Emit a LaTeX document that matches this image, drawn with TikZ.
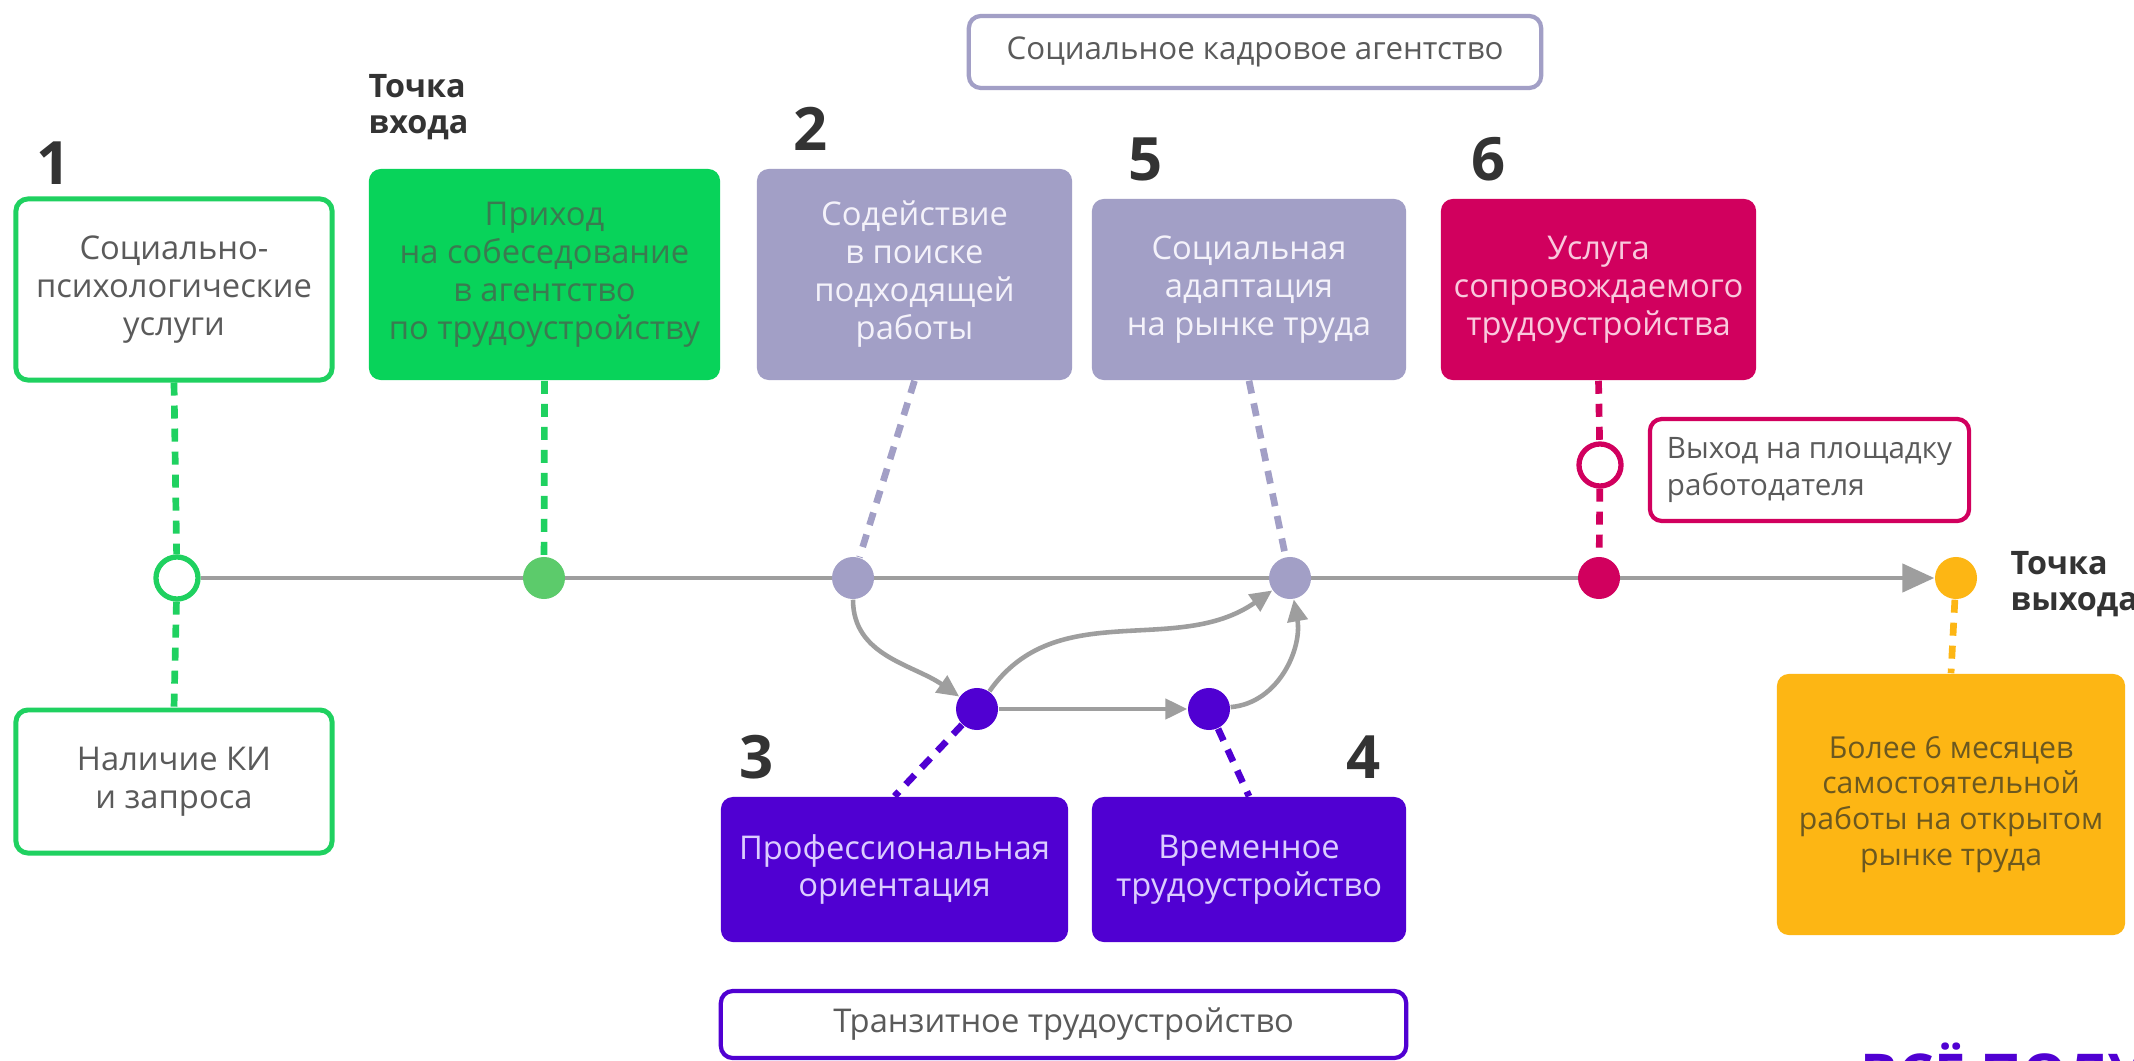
\documentclass[tikz,border=0pt]{standalone}
\usepackage{fontspec}
\setmainfont{Open Sans}
\usetikzlibrary{arrows.meta}

\definecolor{grn}{HTML}{1FD160}
\definecolor{grnfill}{HTML}{08D35A}
\definecolor{grndot}{HTML}{5CCB6B}
\definecolor{grntext}{HTML}{3A7A50}
\definecolor{lav}{HTML}{A29FC6}
\definecolor{lavtext}{HTML}{F4F2FA}
\definecolor{mag}{HTML}{D1005E}
\definecolor{magtext}{HTML}{F9C9DD}
\definecolor{vio}{HTML}{5000D2}
\definecolor{viotext}{HTML}{DCCDFF}
\definecolor{amber}{HTML}{FDB614}
\definecolor{ambertext}{HTML}{6B5820}
\definecolor{txt}{HTML}{5A5A5A}
\definecolor{tline}{HTML}{9E9E9E}
\definecolor{ink}{HTML}{333333}

\pgfdeclarelayer{bg}
\pgfsetlayers{bg,main}

\tikzset{
  card/.style={rounded corners=0.12cm, align=center, inner sep=0pt,
    font=\fontsize{9.3}{10.8}\selectfont},
  num/.style={inner sep=0pt, text=ink, font=\fontsize{17}{20}\selectfont\bfseries},
  lbl/.style={inner sep=0pt, align=left, text=ink, font=\fontsize{9.2}{10.2}\selectfont\bfseries},
  dot/.style={circle, inner sep=0pt, minimum size=0.42cm},
  ring/.style={circle, inner sep=0pt, minimum size=0.42cm, fill=white, line width=1.5pt},
  dashln/.style={line width=1.9pt, dash pattern=on 0.13cm off 0.1cm},
  flow/.style={draw=tline, line width=1.3pt, -{Triangle[length=0.22cm,width=0.2cm]}}
}

\begin{document}
\begin{tikzpicture}[x=0.01cm, y=-0.01cm]
		%%%%% START %%%%%
		\useasboundingbox (0,0) rectangle (2134,1061);
		
		% upper row
		\node[num] (n1) at (54,163) {1};
		\node[card, draw=grn, line width=1.4pt, text=txt, minimum width=3.16cm, minimum height=1.81cm] (psy) at (174,289.5) {Социально-\\психологические\\услуги};
		
		\node[lbl, anchor=north west] (entrylbl) at (368,74) {Точка\\входа};
		\node[card, fill=grnfill, text=grntext, minimum width=3.51cm, minimum height=2.11cm] (visit) at (544.5,274.5) {Приход\\на собеседование\\в агентство\\по трудоустройству};
		
		\node[num] (n2) at (811,129) {2};
		\node[card, fill=lav, text=lavtext, minimum width=3.15cm, minimum height=2.11cm] (search) at (914.5,274.5) {Содействие\\в поиске\\подходящей\\работы};
		
		\node[num] (n5) at (1146,159) {5};
		\node[card, fill=lav, text=lavtext, minimum width=3.14cm, minimum height=1.81cm] (adapt) at (1249,289.5) {Социальная\\адаптация\\на рынке труда};
		
		\node[num] (n6) at (1489,159) {6};
		\node[card, fill=mag, text=magtext, minimum width=3.15cm, minimum height=1.81cm] (escort) at (1598.5,289.5) {Услуга\\сопровождаемого\\трудоустройства};
		
		\node[card, draw=lav, line width=1.2pt, text=txt, font=\fontsize{8.9}{10.8}\selectfont, minimum width=5.72cm, minimum height=0.72cm] (agency) at (1255,52) {Социальное кадровое агентство};
		\node[card, draw=mag, line width=1.2pt, text=txt, align=left, font=\fontsize{8.4}{10.6}\selectfont, minimum width=3.19cm, minimum height=1.02cm] (site) at (1809.5,470) {Выход на площадку\\работодателя};
		
		% timeline
		\node[ring, draw=grn] (d1) at (177,578) {};
		\node[dot, fill=grndot] (d2) at (544,578) {};
		\node[dot, fill=lav] (dsearch) at (853,578) {};
		\node[dot, fill=lav] (dadapt) at (1290,578) {};
		\node[dot, fill=mag] (descort) at (1599,578) {};
		\node[ring, draw=mag] (dsite) at (1600,465) {};
		\node[dot, fill=amber] (dexit) at (1956,578) {};
		\node[lbl, anchor=west] (exitlbl) at (2010,584) {Точка\\выхода};
		
		% lower row
		\node[dot, fill=vio] (dorient) at (977,709) {};
		\node[dot, fill=vio] (dtemp) at (1209,709) {};
		
		\node[card, draw=grn, line width=1.4pt, text=txt, minimum width=3.16cm, minimum height=1.43cm] (ki) at (174,781.5) {Наличие КИ\\и запроса};
		\node[num] (n3) at (757,757) {3};
		\node[num] (n4) at (1364,757) {4};
		\node[card, fill=vio, text=viotext, minimum width=3.47cm, minimum height=1.45cm] (orient) at (894.5,869.5) {Профессиональная\\ориентация};
		\node[card, fill=vio, text=viotext, minimum width=3.14cm, minimum height=1.45cm] (temp) at (1249,869.5) {Временное\\трудоустройство};
		\node[card, fill=amber, text=ambertext, font=\fontsize{8.6}{10.2}\selectfont, minimum width=3.48cm, minimum height=2.61cm] (open) at (1951,804.5) {Более 6 месяцев\\самостоятельной\\работы на открытом\\рынке труда};
		\node[card, draw=vio, line width=1.2pt, text=txt, minimum width=6.85cm, minimum height=0.67cm] (transit) at (1063.5,1024.5) {Транзитное трудоустройство};
		
		\node[anchor=north west, inner sep=0pt, text=vio, font=\fontsize{16}{18}\selectfont\bfseries] (brand) at (1860,1042) {ВСЁ ПОЛУЧИТСЯ};
		
		\begin{pgfonlayer}{bg}
		\fill[white] (0,0) rectangle (2134,1061);
		\draw[line width=1.3pt, draw=tline, -{Triangle[length=0.32cm,width=0.28cm]}] (d1) -- (dexit);
		
		\draw[dashln, draw=grn] (psy.south) -- (d1);
		\draw[dashln, draw=grn] (d1) -- (ki.north);
		\draw[dashln, draw=grn] (visit.south) -- (d2);
		\draw[dashln, draw=lav] (search.south) -- (dsearch);
		\draw[dashln, draw=lav] (adapt.south) -- (dadapt);
		\draw[dashln, draw=mag] (escort.south) -- (dsite) -- (descort);
		\draw[dashln, draw=amber] (dexit) -- (open.north);
		\draw[dashln, draw=vio] (dorient) -- (orient.north);
		\draw[dashln, draw=vio] (dtemp) -- (temp.north);
		\end{pgfonlayer}
		
		\draw[flow] (dsearch) to[out=-90, in=145] (dorient);
		\draw[flow] (dorient) to[out=55, in=-145] (dadapt);
		\draw[flow] (dorient) -- (dtemp);
		\draw[flow] (dtemp) to[out=5, in=-80] (dadapt);
		%%%%% END %%%%%
	\end{tikzpicture}
\end{document}
